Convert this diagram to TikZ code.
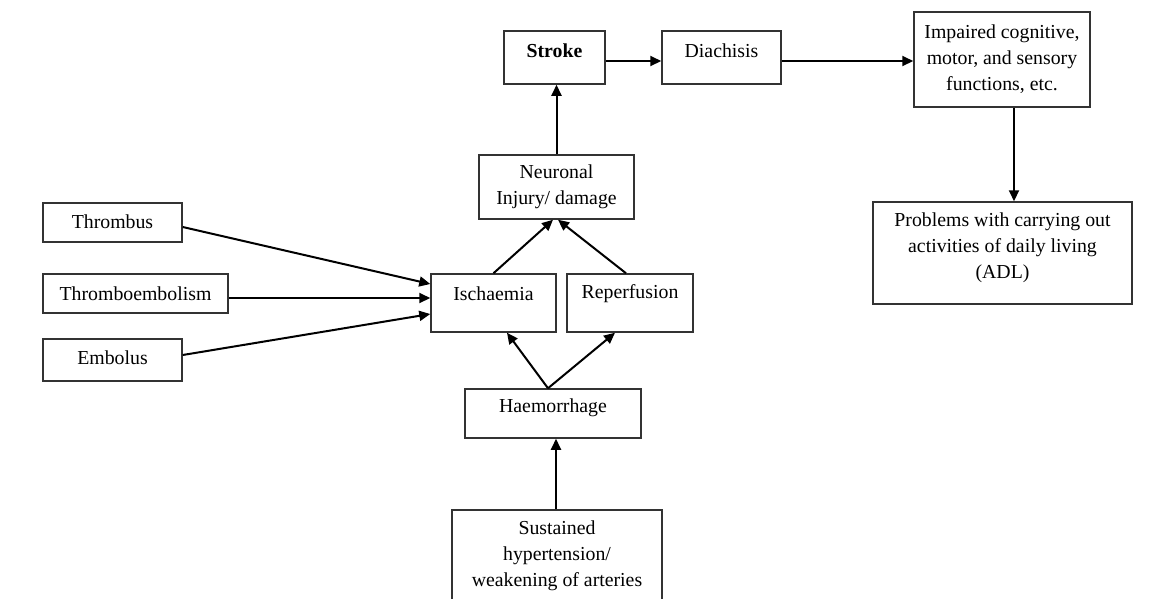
\documentclass[tikz,border=0pt]{standalone}
\usepackage{fontspec}
\setmainfont{Liberation Serif}
\usetikzlibrary{arrows.meta}
\begin{document}
\begin{tikzpicture}[x=1pt,y=-1pt,
  box/.style={draw=black!80,line width=1.5pt,inner sep=0pt,rectangle},
  txt/.style={inner sep=0pt,align=center,font=\fontsize{19.8}{26}\selectfont},
  arr/.style={line width=2pt,-{Triangle[length=11pt,width=10pt]}}]
\clip (0,0) rectangle (1162,598);
\fill[white] (0,0) rectangle (1162,598);
% boxes: center, width, height
\node[box,minimum width=139pt,minimum height=39pt] (thr) at (112.5,222.5) {};
\node[box,minimum width=185pt,minimum height=39pt] (tem) at (135.5,293.5) {};
\node[box,minimum width=139pt,minimum height=42pt] (emb) at (112.5,360) {};
\node[box,minimum width=125pt,minimum height=58pt] (isch) at (493.5,303) {};
\node[box,minimum width=126pt,minimum height=58pt] (rep) at (630,303) {};
\node[box,minimum width=155pt,minimum height=64pt] (neur) at (556.5,187) {};
\node[box,minimum width=101pt,minimum height=53pt] (stroke) at (554.5,57.5) {};
\node[box,minimum width=119pt,minimum height=53pt] (diach) at (721.5,57.5) {};
\node[box,minimum width=176pt,minimum height=95pt] (imp) at (1002,59.5) {};
\node[box,minimum width=259pt,minimum height=102pt] (prob) at (1002.5,253) {};
\node[box,minimum width=176pt,minimum height=49pt] (haem) at (553,413.5) {};
\node[box,minimum width=210pt,minimum height=100pt] (sust) at (557,560) {};
% texts
\node[txt] (thr-t) at (112.5,222) {Thrombus};
\node[txt] (tem-t) at (135.5,294) {Thromboembolism};
\node[txt] (emb-t) at (112.5,358) {Embolus};
\node[txt] (isch-t) at (493.5,294) {Ischaemia};
\node[txt] (rep-t) at (630,294) {Reperfusion};
\node[txt] (neur-t) at (556.5,187) {Neuronal\\Injury/ damage};
\node[txt] (stroke-t) at (554.5,51) {\bfseries Stroke};
\node[txt] (diach-t) at (721.5,51) {Diachisis};
\node[txt] (imp-t) at (1002,59) {Impaired cognitive,\\motor, and sensory\\functions, etc.};
\node[txt] (prob-t) at (1002.5,248) {Problems with carrying out\\activities of daily living\\(ADL)};
\node[txt] (haem-t) at (553,408) {Haemorrhage};
\node[txt] (sust-t) at (557,556) {Sustained\\hypertension/\\weakening of arteries};
% connectors
\draw[arr] ([yshift=-3.5pt]stroke.east) -- ([yshift=-3.5pt]diach.west);
\draw[arr] ([yshift=-3.5pt]diach.east) -- ([yshift=-1.5pt]imp.west);
\draw[arr] ([xshift=12pt]imp.south) -- ([xshift=11.5pt]prob.north);
\draw[arr] (neur.north) -- (neur.north |- stroke.south);
\draw[arr] (isch.north) -- ([xshift=-3.5pt]neur.south);
\draw[arr] ([xshift=-4pt]rep.north) -- ([xshift=1.5pt]neur.south);
\draw[arr] ([xshift=-5pt]haem.north) -- ([xshift=13.5pt]isch.south);
\draw[arr] ([xshift=-5pt]haem.north) -- ([xshift=-15pt]rep.south);
\draw[arr] ([xshift=-1pt]sust.north) -- ([xshift=-1pt]sust.north |- haem.south);
\draw[arr] ([yshift=-4.5pt]thr.east) -- ([yshift=19pt]isch.west);
\draw[arr] ([yshift=-4.5pt]tem.east) -- ([yshift=5pt]isch.west);
\draw[arr] ([yshift=5pt]emb.east) -- ([yshift=-11pt]isch.west);
\end{tikzpicture}
\end{document}
